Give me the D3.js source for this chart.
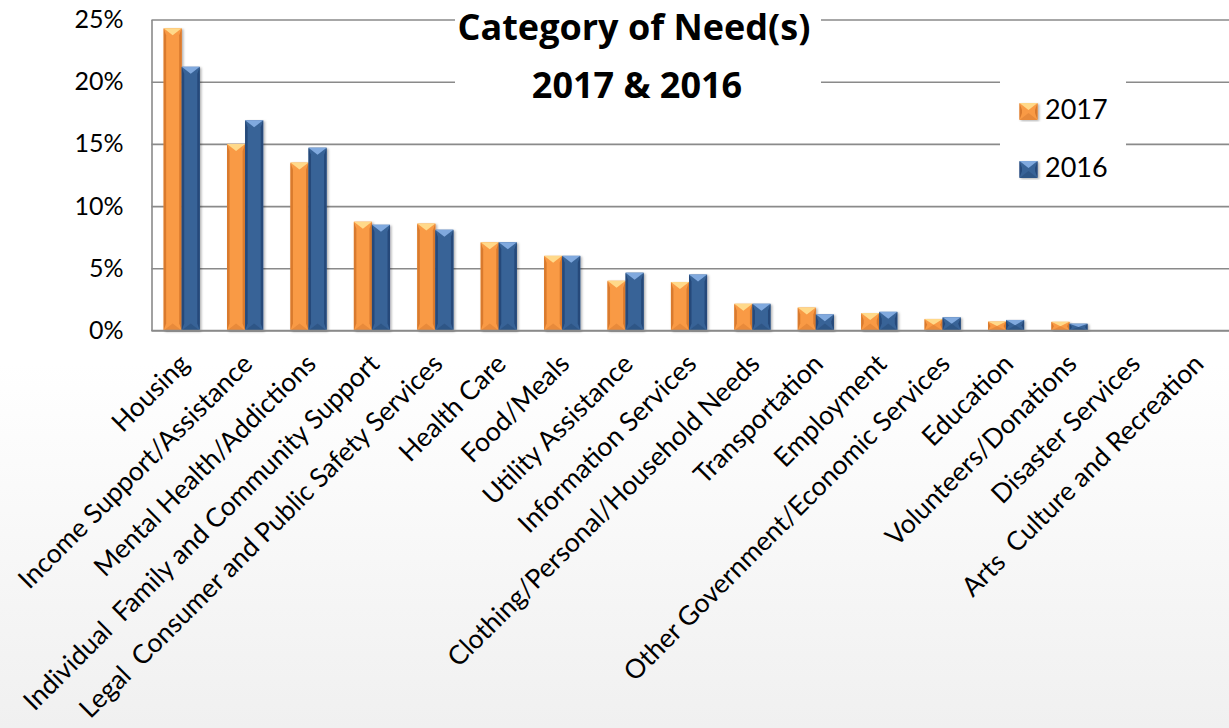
<!DOCTYPE html>
<meta charset="utf-8" />
<script src="https://d3js.org/d3.v7.min.js"></script>
<style>
  body { margin: 0; background: #fff; }
  text { font-family: Lato, "Open Sans", sans-serif; fill: #000; }
</style>
<div id="chart"></div>
<script>
  // chart data
  const categories = [
    "Housing",
    "Income Support/Assistance",
    "Mental Health/Addictions",
    "Individual  Family and Community Support",
    "Legal  Consumer and Public Safety Services",
    "Health Care",
    "Food/Meals",
    "Utility Assistance",
    "Information Services",
    "Clothing/Personal/Household Needs",
    "Transportation",
    "Employment",
    "Other Government/Economic Services",
    "Education",
    "Volunteers/Donations",
    "Disaster Services",
    "Arts  Culture and Recreation",
  ];
  const series = ["2017", "2016"];
  const values2017 = [24.3, 15.0, 13.5, 8.75, 8.6, 7.1, 6.0, 4.0, 3.9, 2.15, 1.85, 1.4, 0.93, 0.72, 0.7, 0, 0];
  const values2016 = [21.2, 16.9, 14.7, 8.5, 8.1, 7.1, 6.0, 4.65, 4.5, 2.15, 1.3, 1.5, 1.07, 0.85, 0.55, 0, 0];
  const yTicks = [0, 5, 10, 15, 20, 25];

  const W = 1229, H = 728;
  const plot = { left: 151.5, right: 1229, top: 19.5, bottom: 330.5 };

  // bevel palette per series
  const palette = {
    "2017": { main: "#f99a45", light: "#ffd98a", edge: "#d97a2d", low: "#e88a3a" },
    "2016": { main: "#386397", light: "#80a9de", edge: "#25497a", low: "#2f5686" },
  };

  const svg = d3.select("#chart").append("svg")
    .attr("width", W).attr("height", H);

  const defs = svg.append("defs");
  const bg = defs.append("linearGradient").attr("id", "bg")
    .attr("x1", 0).attr("y1", 0).attr("x2", 0).attr("y2", 1);
  bg.append("stop").attr("offset", "0.5").attr("stop-color", "#ffffff");
  bg.append("stop").attr("offset", "1").attr("stop-color", "#f0f0f0");

  const shadow = defs.append("filter").attr("id", "shadow")
    .attr("x", "-30%").attr("y", "-10%").attr("width", "160%").attr("height", "120%");
  shadow.append("feDropShadow").attr("dx", 1.5).attr("dy", 1)
    .attr("stdDeviation", 1).attr("flood-color", "#000").attr("flood-opacity", 0.3);

  svg.append("rect").attr("width", W).attr("height", H).attr("fill", "url(#bg)");

  // scales
  const y = d3.scaleLinear().domain([0, 25]).range([plot.bottom, plot.top]);
  const x = d3.scaleBand().domain(categories).range([150, 1228])
    .paddingInner(0.43).paddingOuter(0.215);
  const xSub = d3.scaleBand().domain(series).range([0, x.bandwidth()]);

  // y axis + gridlines
  const yAxis = svg.append("g")
    .attr("transform", `translate(${plot.left},0)`)
    .call(d3.axisLeft(y).tickValues(yTicks).tickFormat(d => d + "%")
      .tickSizeInner(-(plot.right - plot.left + 2)).tickSizeOuter(0).tickPadding(28));
  yAxis.select(".domain").attr("stroke", "#8a8a8a").attr("stroke-width", 1.6);
  yAxis.selectAll(".tick line").attr("stroke", "#8a8a8a").attr("stroke-width", 1.6);
  yAxis.selectAll(".tick text")
    .style("font-size", "25px").style("font-family", "Lato, sans-serif").attr("fill", "#000");

  // white boxes behind the title and legend (they cut the gridlines)
  svg.append("rect").attr("x", 455).attr("y", 4).attr("width", 366).attr("height", 104).attr("fill", "#fff");
  svg.append("rect").attr("x", 1000).attr("y", 72).attr("width", 126).attr("height", 120).attr("fill", "#fff");

  // bevelled bar
  function bevelBar(g, bx, by, w, h, c) {
    if (h <= 0) return;
    const d = Math.min(7, h / 2);
    const s = Math.min(2.5, w / 6);
    const bar = g.append("g").attr("filter", "url(#shadow)");
    bar.append("rect").attr("x", bx).attr("y", by).attr("width", w).attr("height", h).attr("fill", c.main);
    bar.append("polygon").attr("fill", c.edge)
      .attr("points", [[bx, by], [bx + s, by + d], [bx + s, by + h - d], [bx, by + h]].join(" "));
    bar.append("polygon").attr("fill", c.edge)
      .attr("points", [[bx + w, by], [bx + w - s, by + d], [bx + w - s, by + h - d], [bx + w, by + h]].join(" "));
    bar.append("polygon").attr("fill", c.light)
      .attr("points", [[bx, by], [bx + w, by], [bx + w / 2, by + d]].join(" "));
    bar.append("polygon").attr("fill", c.low)
      .attr("points", [[bx, by + h], [bx + w, by + h], [bx + w / 2, by + h - d]].join(" "));
  }

  // bars
  const barsG = svg.append("g");
  const rows = categories.map((c, i) => ({ cat: c, "2017": values2017[i], "2016": values2016[i] }));
  rows.forEach(r => {
    series.forEach(s => {
      const v = r[s];
      const bx = x(r.cat) + xSub(s);
      bevelBar(barsG, bx, y(v), xSub.bandwidth(), y(0) - y(v), palette[s]);
    });
  });

  // bottom axis line
  svg.append("line")
    .attr("x1", plot.left).attr("x2", plot.right + 2)
    .attr("y1", y(0)).attr("y2", y(0))
    .attr("stroke", "#8a8a8a").attr("stroke-width", 1.6);

  // category labels, rotated
  svg.append("g").selectAll("text")
    .data(categories)
    .join("text")
    .attr("transform", d => `translate(${x(d) + x.bandwidth() / 2 + 9},${plot.bottom + 35}) rotate(-45)`)
    .attr("text-anchor", "end")
    .style("font-size", "26.5px")
    .style("white-space", "pre")
    .text(d => d);

  // title
  const title = svg.append("text")
    .attr("text-anchor", "middle")
    .style("font-family", "'Open Sans', sans-serif")
    .style("font-size", "36px")
    .style("font-weight", "bold");
  title.append("tspan").attr("x", 634).attr("y", 40).text("Category of Need(s)");
  title.append("tspan").attr("x", 637).attr("y", 98).text("2017 & 2016");

  // legend
  const legend = svg.append("g");
  series.forEach((s, i) => {
    const ly = 103 + i * 58;
    bevelBar(legend, 1019.5, ly, 18, 17, palette[s]);
    legend.append("text")
      .attr("x", 1045).attr("y", ly + 16)
      .style("font-size", "27px")
      .text(s);
  });
</script>
